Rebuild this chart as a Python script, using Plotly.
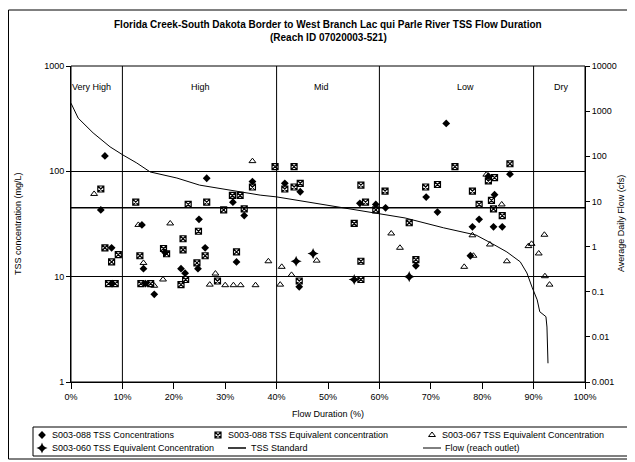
import plotly.graph_objects as go

# ---------------- data ----------------
title_line1 = "Florida Creek-South Dakota Border to West Branch Lac qui Parle River TSS Flow Duration"
title_line2 = "(Reach ID 07020003-521)"

# S003-088 TSS Concentrations (mg/L)
s088_conc_x = [6.6, 5.8, 7.9, 13.8, 14.1, 16.2, 14.5, 8.0, 18.3, 21.4, 22.2, 24.9, 24.7, 26.1,
               26.4, 31.5, 32.2, 33.7, 35.3, 41.6, 44.6, 44.4, 56.2, 59.3, 61.2, 69.1, 71.3,
               73.0, 67.1, 79.4, 78.1, 82.2, 83.9, 82.4, 81.2, 85.4, 77.7]
s088_conc_y = [140, 43, 18.8, 31, 11.9, 6.8, 8.6, 8.6, 17, 11.9, 10.8, 35, 11.9, 18.8,
               86, 51, 13.8, 38, 80, 77, 64, 8.0, 49.7, 48.5, 45, 57, 41,
               285, 12.7, 35, 29.7, 29.7, 29.7, 60, 90, 94, 15.8]

# S003-088 TSS Equivalent concentration
s088_eq_x = [5.8, 6.6, 9.2, 7.9, 7.3, 8.6, 12.6, 13.4, 13.6, 15.5, 18.0, 18.6, 21.8, 21.8,
             22.3, 21.4, 22.8, 24.8, 24.5, 26.1, 26.4, 28.5, 29.7, 31.4, 32.9, 32.2, 33.7,
             35.3, 39.7, 43.4, 41.6, 43.4, 44.6, 44.4, 55.1, 56.4, 57.3, 59.3, 61.1, 56.4,
             56.4, 65.8, 67.1, 69.0, 71.3, 74.7, 78.1, 79.4, 81.2, 82.4, 81.8, 82.2, 83.9, 85.4]
s088_eq_y = [68, 18.8, 16.2, 13.8, 8.6, 8.6, 51, 15.8, 8.6, 8.6, 18.5, 16.5, 22.9, 18,
             9.4, 8.4, 48.5, 27, 13.5, 15.8, 51, 9.1, 43, 59, 59, 17.2, 44,
             71, 111, 111, 68, 71, 77, 9.1, 32, 74, 51, 43, 65, 14,
             9.4, 32.5, 14.5, 71, 75, 111, 65, 48.5, 81, 87, 53, 44, 38, 118]

# S003-067 TSS Equivalent Concentration
s067_eq_x = [4.5, 13.1, 14.1, 16.2, 17.9, 19.3, 27.0, 28.1, 30.0, 31.6, 33.0, 35.9, 35.3,
             38.4, 40.7, 41.0, 42.9, 47.8, 62.3, 64.0, 76.5, 78.1, 78.3, 81.5, 80.8, 83.8,
             84.8, 89.0, 89.6, 91.0, 92.1, 92.2, 93.1]
s067_eq_y = [61, 31, 13.5, 8.2, 9.4, 32, 8.4, 10.7, 8.3, 8.3, 8.3, 8.3, 125,
             14, 8.4, 12.4, 10.4, 14.2, 25.7, 18.8, 12.4, 24.7, 15.8, 20.2, 93, 48.5,
             14, 19.5, 20.5, 16.6, 25, 10.1, 8.4]

# S003-060 TSS Equivalent Concentration
s060_eq_x = [43.8, 47.1, 55.1, 65.8]
s060_eq_y = [14, 16.6, 9.4, 10.0]

# TSS standard (mg/L)
tss_standard = 45

# Flow duration curve (reach outlet), cfs
flow_x = [0, 1.4, 4.3, 7.6, 10.1, 12.8, 15.4, 20.6, 25.0, 30.4, 36.8, 40.0, 50.0, 59.6,
          65.0, 72.5, 78.8, 82.0, 84.8, 87.4, 88.7, 89.7, 90.7, 91.2, 92.4, 92.6, 92.8]
flow_y = [1500, 700, 330, 162, 107, 71, 45, 33, 23, 18, 13.8, 12.6, 8.3, 5.5,
          4.3, 2.6, 1.8, 1.15, 0.76, 0.46, 0.26, 0.126, 0.066, 0.036, 0.028, 0.0165, 0.0026]

zone_bounds = [10, 40, 60, 90]
zone_labels = ["Very High", "High", "Mid", "Low", "Dry"]
zone_label_x = [3.9, 25.1, 48.8, 76.8, 95.3]

x_ticks = [0, 10, 20, 30, 40, 50, 60, 70, 80, 90, 100]
left_ticks = [1, 10, 100, 1000]
right_ticks = [0.001, 0.01, 0.1, 1, 10, 100, 1000, 10000]
right_ticklabels = ["0.001", "0.01", "0.1", "1", "10", "100", "1000", "10000"]

legend_names = ["S003-088 TSS Concentrations", "S003-088 TSS Equivalent concentration",
                "S003-067 TSS Equivalent Concentration", "S003-060 TSS Equivalent Concentration",
                "TSS Standard", "Flow (reach outlet)"]

# ---------------- layout geometry (screen pixels; page body has an 8px offset) ----------------
OFF = 8
W, H = 635 - OFF, 462 - OFF
FONT = "Liberation Sans, Arial, sans-serif"
PLOT_L, PLOT_R, PLOT_T, PLOT_B = 71, 585, 66, 382


def fx(p):
    return (p - OFF) / W


def fy(p):
    return 1 - (p - OFF) / H


sym = dict(
    conc=dict(symbol="diamond", size=6, color="black", line=dict(width=0)),
    eq88=dict(symbol="square-x-open", size=6, color="black", line=dict(width=1.2)),
    eq67=dict(symbol="triangle-up-open", size=6, color="black", line=dict(width=1)),
    eq60=dict(symbol="star-diamond", size=8, color="black", line=dict(width=0)),
)

fig = go.Figure()
fig.add_trace(go.Scatter(x=s088_conc_x, y=s088_conc_y, mode="markers", name=legend_names[0],
                         marker=sym["conc"]))
fig.add_trace(go.Scatter(x=s088_eq_x, y=s088_eq_y, mode="markers", name=legend_names[1],
                         marker=sym["eq88"]))
fig.add_trace(go.Scatter(x=s067_eq_x, y=s067_eq_y, mode="markers", name=legend_names[2],
                         marker=sym["eq67"]))
fig.add_trace(go.Scatter(x=s060_eq_x, y=s060_eq_y, mode="markers", name=legend_names[3],
                         marker=sym["eq60"]))
fig.add_trace(go.Scatter(x=[x_ticks[0], x_ticks[-1]], y=[tss_standard, tss_standard],
                         mode="lines", name=legend_names[4],
                         line=dict(color="black", width=1.5)))
fig.add_trace(go.Scatter(x=flow_x, y=flow_y, mode="lines", name=legend_names[5], yaxis="y2",
                         line=dict(color="black", width=1)))

# legend drawn manually on a full-figure overlay subplot (pixel coordinates)
leg_rows = [435, 448]
leg_marker_x = [42, 218, 432]
leg_items = [
    (legend_names[0], "conc", 0, 0), (legend_names[1], "eq88", 1, 0),
    (legend_names[2], "eq67", 2, 0), (legend_names[3], "eq60", 0, 1),
]
for name, key, col, row in leg_items:
    fig.add_trace(go.Scatter(x=[leg_marker_x[col]], y=[leg_rows[row]], mode="markers",
                             marker=sym[key], xaxis="x3", yaxis="y3", hoverinfo="skip"))

shapes = []
for b in zone_bounds:
    shapes.append(dict(type="line", xref="x", yref="y domain", x0=b, x1=b, y0=0, y1=1,
                       line=dict(color="black", width=1)))
shapes.append(dict(type="rect", xref="x domain", yref="y domain", x0=0, x1=1, y0=0, y1=1,
                   line=dict(color="black", width=1)))
# outer chart frame
shapes.append(dict(type="rect", xref="paper", yref="paper",
                   x0=fx(8.5), x1=fx(631), y0=fy(459), y1=fy(10),
                   line=dict(color="black", width=1)))
# legend box
shapes.append(dict(type="rect", xref="paper", yref="paper",
                   x0=fx(33), x1=fx(629), y0=fy(456), y1=fy(427),
                   line=dict(color="black", width=1)))
# legend line samples
for (lx0, lx1, lw) in [(228, 246, 1.5), (423, 441, 1)]:
    shapes.append(dict(type="line", xref="paper", yref="paper", x0=fx(lx0), x1=fx(lx1),
                       y0=fy(leg_rows[1]), y1=fy(leg_rows[1]),
                       line=dict(color="black", width=lw)))

annotations = []
leg_text = [(legend_names[0], 50, 0), (legend_names[1], 226, 0), (legend_names[2], 440, 0),
            (legend_names[3], 50, 1), (legend_names[4], 249, 1), (legend_names[5], 443, 1)]
for txt, tx, row in leg_text:
    annotations.append(dict(text=txt, x=fx(tx), xref="paper", y=fy(leg_rows[row]),
                            yref="paper", showarrow=False, xanchor="left", yanchor="middle",
                            font=dict(size=9, color="black", family=FONT)))
for lbl, lx in zip(zone_labels, zone_label_x):
    annotations.append(dict(text=lbl, x=lx, xref="x", y=fy(87), yref="paper",
                            showarrow=False, font=dict(size=9, color="black", family=FONT),
                            xanchor="center", yanchor="middle"))
cx = fx((PLOT_L + PLOT_R) / 2)
annotations.append(dict(text="<b>" + title_line1 + "</b>", x=cx, xref="paper",
                        y=fy(24), yref="paper", showarrow=False,
                        font=dict(size=10, color="black", family=FONT), yanchor="middle"))
annotations.append(dict(text="<b>" + title_line2 + "</b>", x=cx, xref="paper",
                        y=fy(38), yref="paper", showarrow=False,
                        font=dict(size=10, color="black", family=FONT), yanchor="middle"))
annotations.append(dict(text="Flow Duration (%)", x=cx, xref="paper", y=fy(414),
                        yref="paper", showarrow=False, yanchor="middle",
                        font=dict(size=9, color="black", family=FONT)))
cy = fy((PLOT_T + PLOT_B) / 2)
annotations.append(dict(text="TSS concentration (mg/L)", x=fx(18), xref="paper", y=cy,
                        yref="paper", showarrow=False, textangle=-90, xanchor="center",
                        font=dict(size=9, color="black", family=FONT)))
annotations.append(dict(text="Average Daily Flow (cfs)", x=fx(621), xref="paper", y=cy,
                        yref="paper", showarrow=False, textangle=-90, xanchor="center",
                        font=dict(size=9, color="black", family=FONT)))

xdom = [fx(PLOT_L), fx(PLOT_R)]
ydom = [fy(PLOT_B), fy(PLOT_T)]

fig.update_layout(
    width=W, height=H,
    margin=dict(l=0, r=0, t=0, b=0, autoexpand=False),
    paper_bgcolor="white", plot_bgcolor="rgba(0,0,0,0)",
    font=dict(family=FONT, size=9, color="black"),
    showlegend=False,
    xaxis=dict(domain=xdom, range=[0, 100], tickvals=x_ticks,
               ticktext=[f"{t}%" for t in x_ticks],
               showgrid=False, zeroline=False, showline=True, linecolor="black",
               ticks="outside", ticklen=6, tickcolor="black", automargin=False),
    yaxis=dict(domain=ydom, type="log", range=[0, 3], tickvals=left_ticks,
               ticktext=[str(t) for t in left_ticks],
               showgrid=True, gridcolor="black", gridwidth=1, zeroline=False,
               showline=True, linecolor="black", ticks="outside", ticklen=4, tickcolor="black",
               automargin=False),
    yaxis2=dict(type="log", range=[-3, 4], overlaying="y", side="right", anchor="x",
                tickvals=right_ticks, ticktext=right_ticklabels, showgrid=False,
                zeroline=False, showline=True, linecolor="black",
                ticks="outside", ticklen=4, tickcolor="black", automargin=False),
    xaxis3=dict(domain=[0, 1], anchor="y3", range=[OFF, OFF + W], visible=False,
                fixedrange=True),
    yaxis3=dict(domain=[0, 1], anchor="x3", range=[OFF + H, OFF], visible=False,
                fixedrange=True),
    shapes=shapes,
    annotations=annotations,
)

fig.write_html("out.html")
